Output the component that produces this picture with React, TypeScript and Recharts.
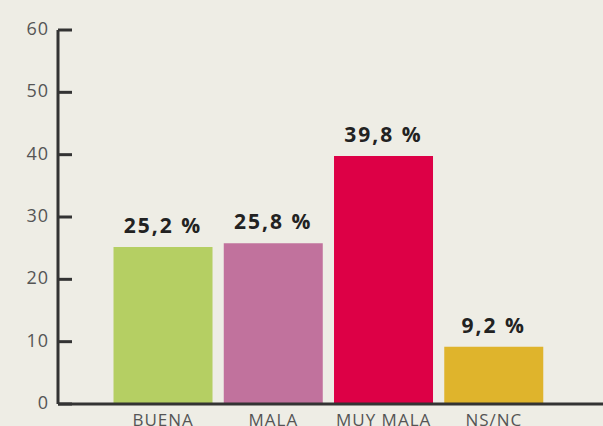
import { Bar, BarChart, Cell, LabelList, XAxis, YAxis } from 'recharts';

const categories = ['BUENA', 'MALA', 'MUY MALA', 'NS/NC'];
const values = [25.2, 25.8, 39.8, 9.2];
const valueLabels = ['25,2 %', '25,8 %', '39,8 %', '9,2 %'];
const yTicks = [0, 10, 20, 30, 40, 50, 60];

const COLORS = ['#b5cf63', '#c1729d', '#dd0046', '#dfb42c'];
const BG = '#eeede5';
const AXIS = '#333333';

const data = categories.map((name, i) => ({
    name,
    value: values[i],
    label: valueLabels[i],
}));

// tick con la rayita hacia dentro del gráfico
const YTick = (props: any) => {
    const { x, y, payload } = props;
    const axisX = x + 9;
    return (
        <g>
            <line x1={axisX} x2={axisX + 14} y1={y} y2={y} stroke={AXIS} strokeWidth={3} />
            <text
                x={x}
                y={y}
                dy={5}
                textAnchor="end"
                fill="#555"
                fontSize={18}
                letterSpacing={1}
                fontFamily="'Open Sans', sans-serif"
            >
                {payload.value}
            </text>
        </g>
    );
};

export default function App() {
    return (
        <div style={{ width: 603, height: 426, overflow: 'hidden', background: BG }}>
            <style>{`body{margin:0}`}</style>
            <BarChart
                width={603}
                height={440}
                data={data}
                margin={{ top: 30, right: 0, bottom: 6, left: 0 }}
                barCategoryGap="5%"
            >
                <YAxis
                    width={58}
                    domain={[0, 60]}
                    ticks={yTicks}
                    tickSize={0}
                    tickMargin={9}
                    tickLine={false}
                    axisLine={{ stroke: AXIS, strokeWidth: 3 }}
                    tick={<YTick />}
                    interval={0}
                />
                <XAxis
                    dataKey="name"
                    height={30}
                    padding={{ left: 50, right: 54 }}
                    tickLine={false}
                    tickSize={0}
                    tickMargin={10}
                    axisLine={{ stroke: AXIS, strokeWidth: 3 }}
                    tick={{
                        fill: '#555',
                        fontSize: 17,
                        fontFamily: "'Open Sans', sans-serif",
                        letterSpacing: 1,
                    }}
                    interval={0}
                />
                <Bar dataKey="value" isAnimationActive={false}>
                    {data.map((entry, index) => (
                        <Cell key={`cell-${index}`} fill={COLORS[index]} />
                    ))}
                    <LabelList
                        dataKey="label"
                        position="top"
                        offset={14}
                        fill="#222"
                        fontSize={21}
                        fontWeight="bold"
                        fontFamily="'Open Sans', sans-serif"
                        letterSpacing={2}
                    />
                </Bar>
            </BarChart>
        </div>
    );
}
